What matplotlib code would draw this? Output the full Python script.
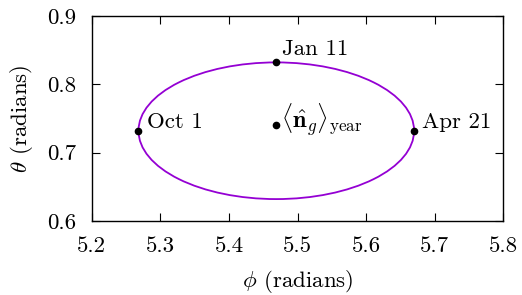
import numpy as np
import matplotlib
matplotlib.use("Agg")
import matplotlib.pyplot as plt
from matplotlib.patches import Ellipse

# ellipse of the yearly path (centre, half-widths) in radians
orbit_center = (5.469, 0.732)
orbit_half_phi = 0.201
orbit_half_theta = 0.100

# marked dates
date_labels = ["Oct 1", "Jan 11", "Apr 21"]
date_phi = [5.268, 5.469, 5.670]
date_theta = [0.731, 0.833, 0.732]
label_offsets = [(9, 3), (6, 7), (8, 3)]  # pixels

# yearly average direction
mean_phi = 5.469
mean_theta = 0.740

xticks = [5.2, 5.3, 5.4, 5.5, 5.6, 5.7, 5.8]
yticks = [0.6, 0.7, 0.8, 0.9]

plt.rcParams["font.family"] = "serif"
plt.rcParams["font.serif"] = ["cmr10"]
plt.rcParams["mathtext.fontset"] = "cm"
plt.rcParams["axes.formatter.use_mathtext"] = True
plt.rcParams["font.size"] = 16.5

fig = plt.figure(figsize=(5.22, 2.95), dpi=100)
ax = fig.add_axes([0.176, 0.251, 0.788, 0.695])

ell = Ellipse(orbit_center, 2 * orbit_half_phi, 2 * orbit_half_theta,
              fill=False, edgecolor="#9400d3", linewidth=1.3, zorder=2)
ax.add_patch(ell)

ax.plot(date_phi, date_theta, "o", color="black", markersize=4.5, zorder=3)
ax.plot([mean_phi], [mean_theta], "o", color="black", markersize=4.5, zorder=3)

for lab, x, y, off in zip(date_labels, date_phi, date_theta, label_offsets):
    ax.annotate(lab, (x, y), xytext=off, textcoords="offset pixels",
                ha="left", va="baseline")
ax.annotate(r"$\langle\hat{\mathbf{n}}_g\rangle_{\rm year}$", (mean_phi, mean_theta),
            xytext=(5, -3), textcoords="offset pixels", ha="left", va="baseline",
            fontsize=17.5)

ax.set_xlim(5.2, 5.8)
ax.set_ylim(0.6, 0.9)
ax.set_xticks(xticks)
ax.set_yticks(yticks)
ax.set_xticklabels([f"{t:.1f}" for t in xticks])
ax.set_yticklabels([f"{t:.1f}" for t in yticks])
ax.tick_params(direction="in", length=6, width=0.8, top=True, right=True)
ax.tick_params(axis="x", pad=11)
ax.tick_params(axis="y", pad=11)
for s in ax.spines.values():
    s.set_linewidth(1.0)

ax.set_xlabel(r"$\phi$ (radians)", labelpad=9)
ax.set_ylabel(r"$\theta$ (radians)", labelpad=9)

fig.savefig("out.png", dpi=100)
